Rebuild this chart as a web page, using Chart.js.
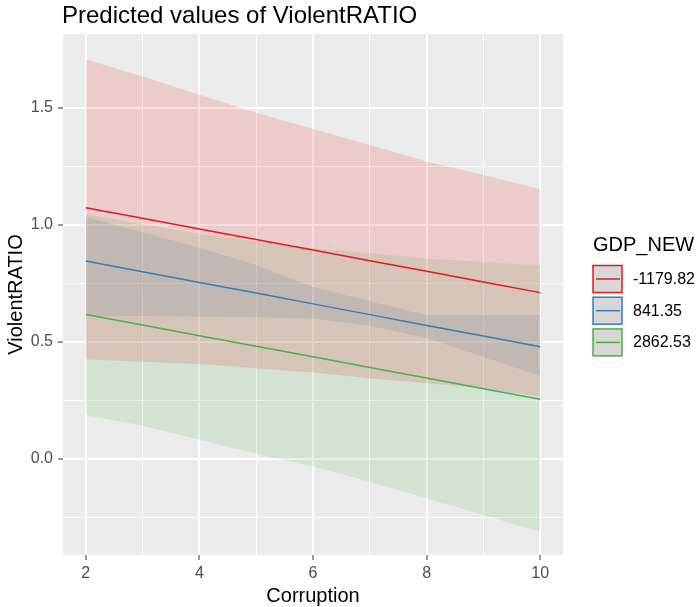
<!DOCTYPE html>
<html>
<head>
<meta charset="utf-8">
<script src="https://cdn.jsdelivr.net/npm/chart.js@4"></script>
<style>
  html, body { margin: 0; padding: 0; background: #fff; }
  #wrap { width: 700px; height: 607px; }
</style>
</head>
<body>
<div id="wrap"><canvas id="chart" width="700" height="607"></canvas></div>
<script>
// x values (Corruption)
const corruption = [2, 3, 4, 5, 6, 7, 8, 9, 10];

// legend groups
const gdpLevels = ['-1179.82', '841.35', '2862.53'];

// predicted lines, one per GDP_NEW level
const predLow  = [1.074, 1.029, 0.983, 0.938, 0.893, 0.847, 0.802, 0.756, 0.711];
const predMid  = [0.846, 0.800, 0.754, 0.709, 0.663, 0.617, 0.571, 0.526, 0.480];
const predHigh = [0.618, 0.573, 0.527, 0.482, 0.437, 0.391, 0.346, 0.300, 0.255];

// confidence bands
const upperLow  = [1.708, 1.634, 1.556, 1.480, 1.410, 1.342, 1.271, 1.214, 1.153];
const lowerLow  = [0.426, 0.416, 0.406, 0.388, 0.370, 0.345, 0.324, 0.302, 0.266];
const upperMid  = [1.035, 0.968, 0.903, 0.829, 0.734, 0.675, 0.615, 0.615, 0.615];
const lowerMid  = [0.612, 0.611, 0.609, 0.606, 0.600, 0.569, 0.517, 0.437, 0.355];
const upperHigh = [1.047, 1.003, 0.961, 0.930, 0.901, 0.879, 0.857, 0.842, 0.826];
const lowerHigh = [0.188, 0.142, 0.084, 0.024, -0.032, -0.097, -0.168, -0.239, -0.311];

// axis ticks
const xMajor = [2, 4, 6, 8, 10];
const xMinor = [3, 5, 7, 9];
const yMajor = [0, 0.5, 1, 1.5];
const yMinor = [-0.25, 0.25, 0.75, 1.25];

const palette = ['#E41A1C', '#377EB8', '#4DAF4A'];
const FONT = '"Liberation Sans", Arial, sans-serif';

const hexA = (hex, a) => {
    const n = parseInt(hex.slice(1), 16);
    return `rgba(${(n >> 16) & 255}, ${(n >> 8) & 255}, ${n & 255}, ${a})`;
};
const pts = (ys) => corruption.map((x, i) => ({ x, y: ys[i] }));

const lines = [predLow, predMid, predHigh];
const bands = [[upperLow, lowerLow], [upperMid, lowerMid], [upperHigh, lowerHigh]];

const datasets = [];
lines.forEach((ys, g) => {
    datasets.push({
        label: gdpLevels[g], data: pts(ys), borderColor: palette[g],
        borderWidth: 1.5, pointRadius: 0, fill: false, order: 0
    });
});
bands.forEach(([up, lo], g) => {
    datasets.push({
        label: 'lo' + g, data: pts(lo), borderColor: 'rgba(0,0,0,0)',
        borderWidth: 0, pointRadius: 0, fill: false, order: 1
    });
    datasets.push({
        label: 'up' + g, data: pts(up), borderColor: 'rgba(0,0,0,0)',
        borderWidth: 0, pointRadius: 0, fill: '-1',
        backgroundColor: hexA(palette[g], 0.15), order: 1
    });
});

const panelBg = {
    id: 'panelBg',
    beforeDraw(chart) {
        const { ctx, chartArea: a } = chart;
        ctx.save();
        ctx.fillStyle = '#EBEBEB';
        ctx.fillRect(a.left, a.top, a.right - a.left, a.bottom - a.top);
        ctx.restore();
    }
};

const decorations = {
    id: 'decorations',
    afterDraw(chart) {
        const ctx = chart.ctx;
        ctx.save();
        // plot title
        ctx.fillStyle = '#000';
        ctx.font = `24px ${FONT}`;
        ctx.textBaseline = 'alphabetic';
        ctx.fillText('Predicted values of ViolentRATIO', 62, 23);

        // legend
        ctx.font = `20px ${FONT}`;
        ctx.textBaseline = 'middle';
        ctx.fillText('GDP_NEW', 593, 245);
        ctx.font = `16px ${FONT}`;
        gdpLevels.forEach((lab, i) => {
            const y = 265.5 + i * 31.7;
            ctx.fillStyle = '#D7D7D7';
            ctx.fillRect(593, y, 29, 27);
            ctx.strokeStyle = palette[i];
            ctx.lineWidth = 1.5;
            ctx.strokeRect(593, y, 29, 27);
            ctx.beginPath();
            ctx.moveTo(596, y + 13.5);
            ctx.lineTo(620, y + 13.5);
            ctx.stroke();
            ctx.fillStyle = '#000';
            ctx.fillText(lab, 633, y + 14);
        });
        ctx.restore();
    }
};

const isMajor = (arr, v) => arr.some(m => Math.abs(m - v) < 1e-9);

new Chart(document.getElementById('chart'), {
    type: 'line',
    data: { datasets },
    plugins: [panelBg, decorations],
    options: {
        responsive: false,
        animation: false,
        devicePixelRatio: 1,
        layout: { padding: { top: 34, right: 137, left: 0, bottom: 0 } },
        plugins: {
            legend: { display: false },
            tooltip: { enabled: false },
            title: { display: false }
        },
        elements: { line: { tension: 0 } },
        scales: {
            x: {
                type: 'linear', min: 1.6, max: 10.4,
                afterBuildTicks: (s) => { s.ticks = [...xMajor, ...xMinor].sort((a, b) => a - b).map(v => ({ value: v })); },
                afterFit: (s) => { s.height = 52; },
                border: { display: false },
                grid: {
                    color: '#FFFFFF',
                    lineWidth: (c) => isMajor(xMajor, c.tick.value) ? 2 : 1,
                    tickColor: (c) => isMajor(xMajor, c.tick.value) ? '#333333' : 'rgba(0,0,0,0)',
                    tickLength: 5, tickWidth: 1
                },
                ticks: {
                    autoSkip: false, maxRotation: 0, padding: 4,
                    color: '#4D4D4D', font: { family: FONT, size: 16 },
                    callback: (v) => isMajor(xMajor, v) ? String(v) : ''
                },
                title: {
                    display: true, text: 'Corruption', color: '#000',
                    font: { family: FONT, size: 20, lineHeight: 1 },
                    padding: { top: 0, bottom: 1 }
                }
            },
            y: {
                type: 'linear', min: -0.410, max: 1.816,
                afterBuildTicks: (s) => { s.ticks = [...yMajor, ...yMinor].sort((a, b) => a - b).map(v => ({ value: v })); },
                afterFit: (s) => { s.width = 63; },
                border: { display: false },
                grid: {
                    color: '#FFFFFF',
                    lineWidth: (c) => isMajor(yMajor, c.tick.value) ? 2 : 1,
                    tickColor: (c) => isMajor(yMajor, c.tick.value) ? '#333333' : 'rgba(0,0,0,0)',
                    tickLength: 5, tickWidth: 1
                },
                ticks: {
                    autoSkip: false, padding: 5,
                    color: '#4D4D4D', font: { family: FONT, size: 16 },
                    callback: (v) => isMajor(yMajor, v) ? v.toFixed(1) : ''
                },
                title: {
                    display: true, text: 'ViolentRATIO', color: '#000',
                    font: { family: FONT, size: 20, lineHeight: 1 },
                    padding: { top: 6, bottom: 0 }
                }
            }
        }
    }
});
</script>
</body>
</html>
